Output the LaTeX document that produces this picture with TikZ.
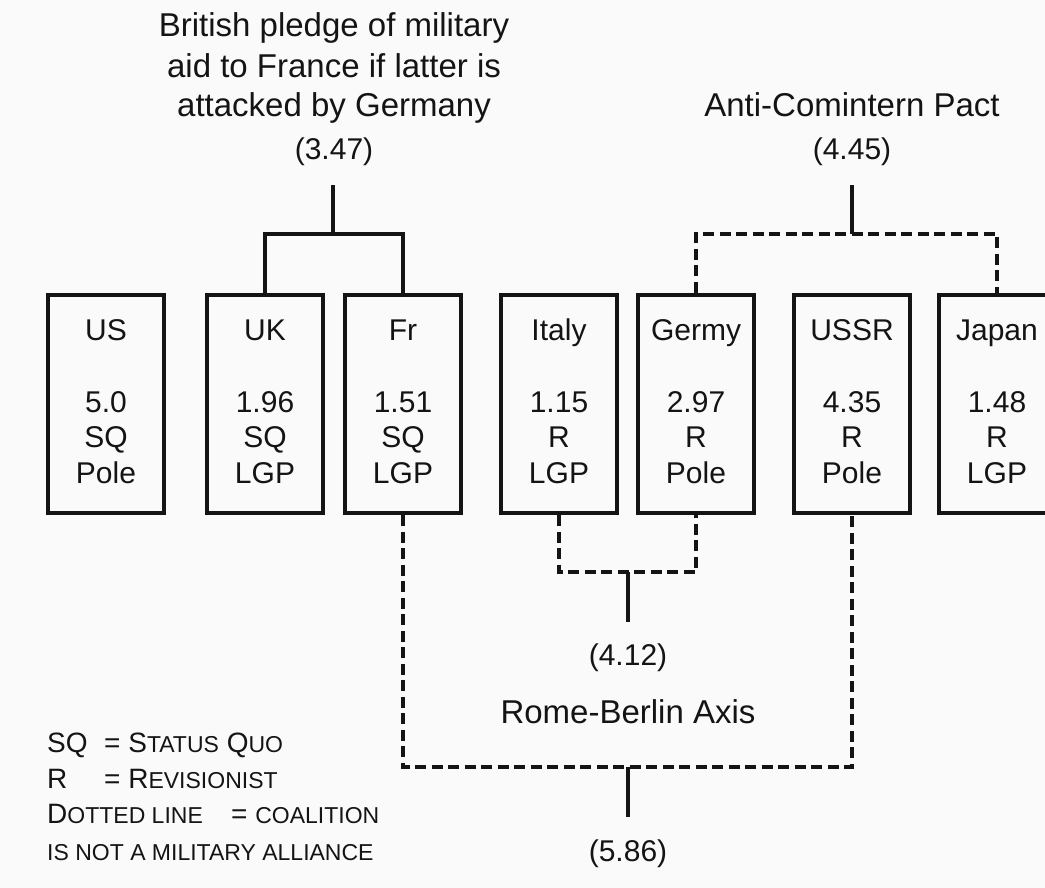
\documentclass[tikz,border=0pt]{standalone}
\usepackage{fontspec}
\setmainfont{Liberation Sans}
\definecolor{paper}{RGB}{250,250,250}
\definecolor{ink}{RGB}{20,20,20}
% small-caps imitation for the key
\newcommand\bigsc[1]{{\fontsize{28}{30}\selectfont #1}}
\newcommand\smsc[1]{{\fontsize{23}{25}\selectfont #1}}
% one country: framed box with name, score, type and rank
\newcommand\countrybox[6]{%
  \node[cbox] (#1) at (#2,404) {};
  \node[ctext] (#1-name) at (#2,340) {#3};
  \node[ctext] (#1-val)  at (#2,412) {#4};
  \node[ctext] (#1-kind) at (#2,447) {#5};
  \node[ctext] (#1-role) at (#2,483) {#6};
}
\begin{document}
\begin{tikzpicture}[x=1pt,y=-1pt,
  cbox/.style={draw=ink, line width=3.6pt, minimum width=116.5pt, minimum height=218.5pt, inner sep=0pt},
  ctext/.style={anchor=base, inner sep=0pt, text=ink, font=\fontsize{30}{36}\selectfont},
  ttext/.style={anchor=base, inner sep=0pt, text=ink, font=\fontsize{33}{40}\selectfont},
  legend/.style={anchor=base west, inner sep=0pt, text=ink, font=\fontsize{28}{30}\selectfont},
  solidline/.style={draw=ink, line width=3.2pt, line join=miter},
  dashline/.style={draw=ink, line width=3.6pt, dash pattern=on 11pt off 5.5pt, line join=miter}]
\useasboundingbox (0,0) rectangle (1045,888);
\fill[paper] (0,0) rectangle (1045,888);
\clip (0,0) rectangle (1045,888);

% countries
\countrybox{us}{106}{US}{5.0}{SQ}{Pole}
\countrybox{uk}{265}{UK}{1.96}{SQ}{LGP}
\countrybox{fr}{403}{Fr}{1.51}{SQ}{LGP}
\countrybox{italy}{559}{Italy}{1.15}{R}{LGP}
\countrybox{germy}{696}{Germy}{2.97}{R}{Pole}
\countrybox{ussr}{852}{USSR}{4.35}{R}{Pole}
\countrybox{japan}{997}{Japan}{1.48}{R}{LGP}

% British pledge (solid = alliance)
\node[ttext] (pledge1) at (334,37) {British pledge of military};
\node[ttext] (pledge2) at (334,78) {aid to France if latter is};
\node[ttext] (pledge3) at (334,117) {attacked by Germany};
\node[ctext] (pledgeval) at (334,160) {(3.47)};
\coordinate (pledgeTop) at (333,185);
\coordinate (pledgeJoin) at (333,234);
\draw[solidline] (pledgeTop) -- (pledgeJoin);
\draw[solidline] (uk.north) |- (pledgeJoin) -| (fr.north);

% Anti-Comintern Pact (dashed = coalition)
\node[ttext] (acp) at (852,117) {Anti-Comintern Pact};
\node[ctext] (acpval) at (852,160) {(4.45)};
\coordinate (acpTop) at (852,185);
\coordinate (acpJoin) at (852,234);
\draw[solidline] (acpTop) -- (acpJoin);
\draw[dashline] (germy.north) |- (acpJoin) -| (japan.north);

% Rome-Berlin Axis
\coordinate (axisJoin) at (628,572);
\coordinate (axisEnd) at (628,622);
\draw[dashline] (italy.south) |- (axisJoin) -| (germy.south);
\draw[solidline] (axisJoin) -- (axisEnd);
\node[ctext] (axisval) at (628,665) {(4.12)};
\node[ttext] (axis) at (628,723) {Rome-Berlin Axis};

% France--USSR coalition
\coordinate (fsJoin) at (628,767);
\coordinate (fsEnd) at (628,817);
\draw[dashline] (fr.south) |- (fsJoin) -| (ussr.south);
\draw[solidline] (fsJoin) -- (fsEnd);
\node[ctext] (fsval) at (628,861) {(5.86)};

% key
\node[legend] (keySQ) at (47,752) {SQ};
\node[legend] (keySQdef) at (104,752) {= \bigsc{S}\smsc{TATUS} \bigsc{Q}\smsc{UO}};
\node[legend] (keyR) at (47,788) {R};
\node[legend] (keyRdef) at (104,788) {= \bigsc{R}\smsc{EVISIONIST}};
\node[legend] (keyDot) at (47,823) {\bigsc{D}\smsc{OTTED LINE}};
\node[legend] (keyDotdef) at (231,823) {= \smsc{COALITION}};
\node[legend] (keyNote) at (47,860) {\smsc{IS NOT A MILITARY ALLIANCE}};
\end{tikzpicture}
\end{document}
